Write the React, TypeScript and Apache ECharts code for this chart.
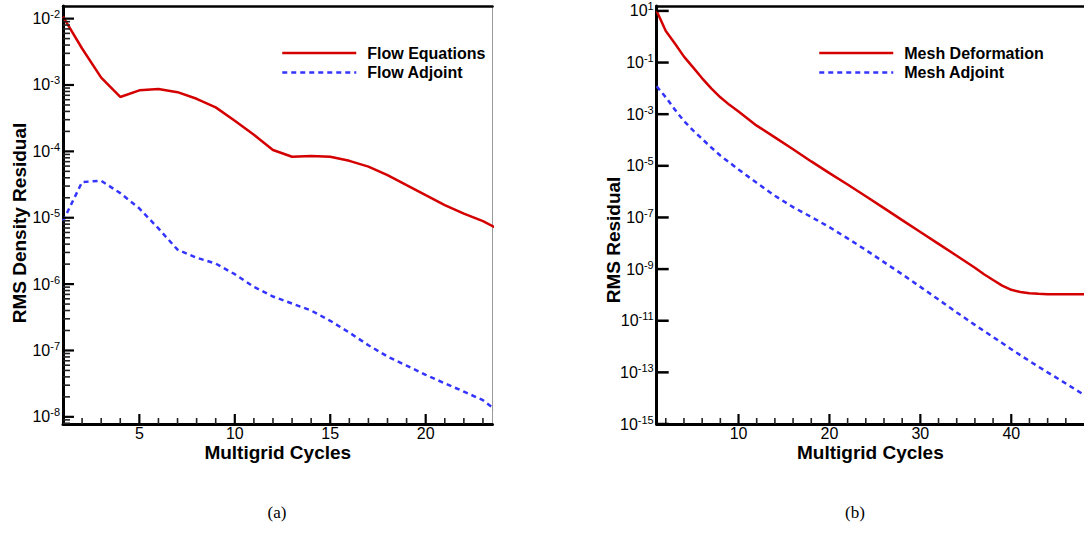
import React, { useEffect, useRef } from "react";
import * as echarts from "echarts";

// ---------- data ----------
const flowCycles = [1, 2, 3, 4, 5, 6, 7, 8, 9, 10, 11, 12, 13, 14, 15, 16, 17, 18, 19, 20, 21, 22, 23, 24];
const flowEquations = [
  1.07e-2, 3.55e-3, 1.29e-3, 6.6e-4, 8.3e-4, 8.7e-4, 7.8e-4, 6.2e-4, 4.6e-4, 2.9e-4, 1.78e-4, 1.05e-4,
  8.3e-5, 8.5e-5, 8.3e-5, 7.2e-5, 5.9e-5, 4.4e-5, 3.1e-5, 2.19e-5, 1.55e-5, 1.15e-5, 8.9e-6, 6.3e-6,
];
const flowAdjoint = [
  8.9e-6, 3.45e-5, 3.6e-5, 2.35e-5, 1.38e-5, 6.9e-6, 3.3e-6, 2.5e-6, 2.04e-6, 1.41e-6, 9.1e-7, 6.5e-7,
  5.1e-7, 4.0e-7, 2.8e-7, 1.86e-7, 1.2e-7, 8.1e-8, 5.9e-8, 4.3e-8, 3.2e-8, 2.4e-8, 1.78e-8, 1.07e-8,
];

const meshCycles = [1, 2, 3, 4, 5, 6, 7, 8, 9, 10, 12, 14, 16, 18, 20, 22, 24, 26, 28, 30, 32, 34, 36, 37, 38, 39, 40, 41, 42, 43, 44, 46, 48];
const meshDeformation = [
  1.0e1, 1.66e0, 5.5e-1, 1.7e-1, 6.5e-2, 2.45e-2, 1.0e-2, 4.5e-3, 2.3e-3, 1.26e-3, 3.6e-4, 1.26e-4,
  4.4e-5, 1.48e-5, 5.2e-6, 1.9e-6, 6.6e-7, 2.3e-7, 7.9e-8, 2.75e-8, 9.5e-9, 3.3e-9, 1.12e-9, 6.3e-10,
  3.8e-10, 2.3e-10, 1.58e-10, 1.29e-10, 1.15e-10, 1.1e-10, 1.07e-10, 1.07e-10, 1.07e-10,
];
const meshAdjoint = [
  1.2e-2, 4.5e-3, 1.5e-3, 5.4e-4, 2.35e-4, 1.1e-4, 5.1e-5, 2.5e-5, 1.35e-5, 7.2e-6, 2.2e-6, 6.9e-7,
  2.5e-7, 1.05e-7, 4.2e-8, 1.55e-8, 5.5e-9, 1.86e-9, 6.3e-10, 2.05e-10, 6.6e-11, 2.1e-11, 6.9e-12, 4.0e-12,
  2.35e-12, 1.37e-12, 7.9e-13, 4.65e-13, 2.75e-13, 1.65e-13, 1.0e-13, 3.7e-14, 1.35e-14,
];

// ---------- axis ranges and ticks ----------
const flowXRange = [1, 23.5];
const flowYRange = [7.8e-9, 1.55e-2];
const meshXRange = [1, 48];
const meshYRange = [1e-15, 15.5];

const flowMajorX = [5, 10, 15, 20];
const flowMinorX = [2, 3, 4, 6, 7, 8, 9, 11, 12, 13, 14, 16, 17, 18, 19, 21, 22, 23];
const flowMajorY = [1e-8, 1e-7, 1e-6, 1e-5, 1e-4, 1e-3, 1e-2];
const flowMinorDecades = [1e-9, 1e-8, 1e-7, 1e-6, 1e-5, 1e-4, 1e-3];
const minorMantissas = [2, 3, 4, 5, 6, 7, 8, 9];
const flowMinorY = flowMinorDecades
  .flatMap((d) => minorMantissas.map((m) => m * d))
  .filter((v) => v >= flowYRange[0] && v <= flowYRange[1]);

const meshMajorX = [10, 20, 30, 40];
const meshMinorX = [2, 4, 6, 8, 12, 14, 16, 18, 22, 24, 26, 28, 32, 34, 36, 38, 42, 44, 46];
const meshMajorY = [1e1, 1e-1, 1e-3, 1e-5, 1e-7, 1e-9, 1e-11, 1e-13, 1e-15];

const FONT = "'Liberation Sans', Arial, Helvetica, sans-serif";
const SERIF = "'Liberation Serif', 'DejaVu Serif', serif";
const RED = "#d40000";
const BLUE = "#3434ff";

const supLabel = (v: number) => `{b|10}{s|${Math.round(Math.log10(v))}}`;
const labelRich = {
  b: { fontSize: 16, lineHeight: 16, fontFamily: FONT, color: "#000", verticalAlign: "bottom" },
  s: { fontSize: 11, fontFamily: FONT, color: "#000", verticalAlign: "bottom", padding: [0, 0, 7, 0] },
};

function xAxes(grid: number, range: number[], major: number[]) {
  return [
    {
      gridIndex: grid, type: "value", min: range[0], max: range[1], position: "bottom",
      axisLine: { show: true, onZero: false, lineStyle: { color: "#000", width: 3 } },
      axisTick: { show: false },
      axisLabel: { show: true, customValues: major, margin: 1, fontSize: 16, lineHeight: 16, color: "#000", fontFamily: FONT },
      splitLine: { show: false },
      name: "Multigrid Cycles", nameLocation: "middle", nameGap: 19, nameMoveOverlap: false,
      nameTextStyle: { fontSize: 19, lineHeight: 19, fontWeight: "bold", color: "#000", fontFamily: FONT },
    },
    {
      gridIndex: grid, type: "value", min: 0, max: 1, position: "top",
      axisLine: { show: true, onZero: false, lineStyle: { color: "#000", width: 2.5 } },
      axisTick: { show: false }, axisLabel: { show: false }, splitLine: { show: false },
    },
  ];
}

function yAxes(grid: number, range: number[], major: number[], name: string, namePad: number[]) {
  return [
    {
      gridIndex: grid, type: "log", logBase: 10, min: range[0], max: range[1], position: "left",
      axisLine: { show: true, onZero: false, lineStyle: { color: "#000", width: 3 } },
      axisTick: { show: false },
      axisLabel: { show: true, customValues: major, margin: 3, formatter: supLabel, rich: labelRich, padding: [0, 0, 2, 0] },
      splitLine: { show: false }, minorTick: { show: false },
      name, nameLocation: "middle", nameGap: 34, nameRotate: 90, nameMoveOverlap: false,
      nameTextStyle: { fontSize: 19, fontWeight: "bold", color: "#000", fontFamily: FONT, padding: namePad },
    },
    {
      gridIndex: grid, type: "value", min: 0, max: 1, position: "right",
      axisLine: { show: true, onZero: false, lineStyle: { color: "#999", width: 1 } },
      axisTick: { show: false }, axisLabel: { show: false }, splitLine: { show: false },
    },
  ];
}

function legendFor(left: number, names: string[]) {
  return {
    data: names, orient: "vertical", left, top: 45, padding: 0,
    itemWidth: 74, itemHeight: 16, itemGap: 3.4, selectedMode: false,
    itemStyle: { color: "transparent", borderColor: "transparent", borderWidth: 0 },
    lineStyle: { width: 2.5 },
    textStyle: { fontSize: 16, fontWeight: "bold", color: "#000", fontFamily: FONT, lineHeight: 16, padding: [0, 0, 0, 6] },
  };
}

const captions = [
  { type: "text", x: 277, y: 512, z: 20, style: { text: "(a)", fontSize: 17, fontFamily: SERIF, fill: "#000", align: "center", verticalAlign: "middle" } },
  { type: "text", x: 855, y: 512, z: 20, style: { text: "(b)", fontSize: 17, fontFamily: SERIF, fill: "#000", align: "center", verticalAlign: "middle" } },
];

export default function App() {
  const ref = useRef<HTMLDivElement>(null);
  useEffect(() => {
    if (!ref.current) return;
    const chart = echarts.init(ref.current, null, { renderer: "svg" });
    const option: any = {
      animation: false,
      backgroundColor: "#fff",
      grid: [
        { left: 63, top: 6, width: 429.5, height: 418, containLabel: false },
        { left: 656.7, top: 6, width: 434.3, height: 418, containLabel: false },
      ],
      xAxis: [...xAxes(0, flowXRange, flowMajorX), ...xAxes(1, meshXRange, meshMajorX)],
      yAxis: [
        ...yAxes(0, flowYRange, flowMajorY, "RMS Density Residual", [0, 16, 0, 0]),
        ...yAxes(1, meshYRange, meshMajorY, "RMS Residual", [0, 50, 0, 0]),
      ],
      legend: [
        legendFor(281, ["Flow Equations", "Flow Adjoint"]),
        legendFor(818, ["Mesh Deformation", "Mesh Adjoint"]),
      ],
      series: [
        {
          type: "line", name: "Flow Equations", xAxisIndex: 0, yAxisIndex: 0, symbol: "none",
          data: flowCycles.map((c, i) => [c, flowEquations[i]]),
          lineStyle: { color: RED, width: 2.5 }, itemStyle: { color: RED },
        },
        {
          type: "line", name: "Flow Adjoint", xAxisIndex: 0, yAxisIndex: 0, symbol: "none",
          data: flowCycles.map((c, i) => [c, flowAdjoint[i]]),
          lineStyle: { color: BLUE, width: 2.5, type: [5, 4] }, itemStyle: { color: BLUE },
        },
        {
          type: "line", name: "Mesh Deformation", xAxisIndex: 2, yAxisIndex: 2, symbol: "none",
          data: meshCycles.map((c, i) => [c, meshDeformation[i]]),
          lineStyle: { color: RED, width: 2.5 }, itemStyle: { color: RED },
        },
        {
          type: "line", name: "Mesh Adjoint", xAxisIndex: 2, yAxisIndex: 2, symbol: "none",
          data: meshCycles.map((c, i) => [c, meshAdjoint[i]]),
          lineStyle: { color: BLUE, width: 2.5, type: [5, 4] }, itemStyle: { color: BLUE },
        },
      ],
      graphic: captions,
    };
    chart.setOption(option);

    // Tick marks: positions come from the axes' own scales via convertToPixel.
    const ticks: any[] = [];
    const addX = (xi: number, yi: number, yMin: number, values: number[], len: number, w: number, color: string) => {
      const yb = Number(chart.convertToPixel({ yAxisIndex: yi } as any, yMin));
      values.forEach((v) => {
        const px = Number(chart.convertToPixel({ xAxisIndex: xi } as any, v));
        ticks.push({ type: "rect", z: 15, silent: true, shape: { x: px - w / 2, y: yb - len, width: w, height: len }, style: { fill: color } });
      });
    };
    const addY = (xi: number, yi: number, xMin: number, values: number[], len: number, w: number, color: string) => {
      const xl = Number(chart.convertToPixel({ xAxisIndex: xi } as any, xMin));
      values.forEach((v) => {
        const py = Number(chart.convertToPixel({ yAxisIndex: yi } as any, v));
        ticks.push({ type: "rect", z: 15, silent: true, shape: { x: xl, y: py - w / 2, width: len, height: w }, style: { fill: color } });
      });
    };
    addX(0, 0, flowYRange[0], flowMajorX, 10, 2.2, "#000");
    addX(0, 0, flowYRange[0], flowMinorX, 6, 1.6, "#222");
    addY(0, 0, flowXRange[0], flowMajorY, 11, 2.2, "#000");
    addY(0, 0, flowXRange[0], flowMinorY, 7, 1.6, "#222");
    addX(2, 2, meshYRange[0], meshMajorX, 10, 2.2, "#000");
    addX(2, 2, meshYRange[0], meshMinorX, 6, 1.6, "#222");
    addY(2, 2, meshXRange[0], meshMajorY, 12, 2.5, "#000");
    chart.setOption({ graphic: [...captions, ...ticks] });

    return () => chart.dispose();
  }, []);
  return <div ref={ref} style={{ position: "absolute", left: 0, top: 0, width: 1084, height: 544 }} />;
}
